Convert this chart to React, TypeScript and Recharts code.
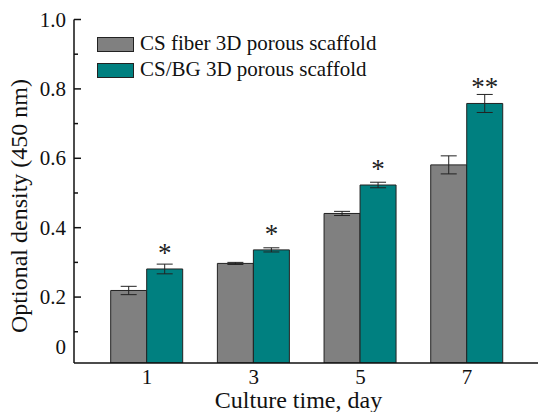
import { Bar, BarChart, ErrorBar, LabelList, Legend, XAxis, YAxis } from 'recharts';

const days = ['1', '3', '5', '7'];
const csFiber = [0.219, 0.297, 0.441, 0.581];
const csFiberErr = [0.012, 0.003, 0.006, 0.026];
const csBg = [0.281, 0.336, 0.523, 0.758];
const csBgErr = [0.014, 0.006, 0.008, 0.026];
const significance = ['*', '*', '*', '**'];

const majorTicks = [0.2, 0.4, 0.6, 0.8, 1.0];
const minorTicks = [0.1, 0.3, 0.5, 0.7, 0.9];
// the "0" label in the original sits a little above the axis floor
const zeroLabelAt = 0.056;

const data = days.map((day, i) => ({
    day,
    fiber: csFiber[i],
    fiberErr: csFiberErr[i],
    bg: csBg[i],
    bgErr: csBgErr[i],
    sig: significance[i]
}));

const font = 'Liberation Serif, Times New Roman, serif';
const serif = { fontFamily: font };
const GRAY = '#808080';
const TEAL = '#008080';

const YTick = (props: any) => {
    const { x, y, payload } = props;
    const v = payload.value;
    if (v === zeroLabelAt) {
        return (
            <text x={x - 8} y={y} dy={7} textAnchor='end' fontSize={21} fontFamily={font} style={serif} fill='#111'>
                0
            </text>
        );
    }
    const major = majorTicks.includes(v);
    return (
        <g>
            <line x1={x} x2={x + (major ? 7 : 4)} y1={y} y2={y} stroke='#111' strokeWidth={1.5} />
            {major && (
                <text x={x - 8} y={y} dy={7} textAnchor='end' fontSize={21} fontFamily={font} style={serif} fill='#111'>
                    {v.toFixed(1)}
                </text>
            )}
        </g>
    );
};

const renderLegend = (props: any) => {
    const items = [
        { name: 'CS fiber 3D porous scaffold', color: GRAY },
        { name: 'CS/BG 3D porous scaffold', color: TEAL }
    ];
    const payload = props?.payload?.length
        ? props.payload
        : items.map((it) => ({ value: it.name, color: it.color }));
    return (
        <svg width={320} height={64} style={{ display: 'block' }}>
            {payload.map((p: any, i: number) => (
                <g key={p.value}>
                    <rect
                        x={0.5}
                        y={i * 26 + 7.5}
                        width={36}
                        height={14}
                        fill={p.color}
                        stroke='#222'
                        strokeWidth={1}
                    />
                    <text x={43} y={i * 26 + 20} fontSize={21} fontFamily={font} style={serif} fill='#111'>
                        {p.value}
                    </text>
                </g>
            ))}
        </svg>
    );
};

const Stars = (props: any) => {
    const { x, y, width, value } = props;
    return (
        <text x={x + width / 2} y={y - 7} textAnchor='middle' fontSize={27} fontFamily={font} style={serif} fill='#222'>
            {value}
        </text>
    );
};

export default function App() {
    return (
        <div
            style={{
                position: 'absolute',
                left: 0,
                top: 0,
                width: 538,
                height: 412,
                overflow: 'hidden',
                background: '#fff',
                fontFamily: font
            }}
        >
            <BarChart
                width={640}
                height={412}
                data={data}
                margin={{ top: 19.5, right: 0, bottom: 0, left: 0 }}
                barSize={36}
                barGap={0}
            >
                <XAxis
                    dataKey='day'
                    height={49}
                    padding={{ left: 19.7, right: 119.6 }}
                    axisLine={{ stroke: '#111', strokeWidth: 1.5 }}
                    tickLine={false}
                    tickSize={0}
                    tickMargin={6}
                    tick={{ fontSize: 21, fontFamily: font, fill: '#111' }}
                    label={{
                        content: (p: any) => (
                            <text
                                x={p.viewBox.x + 224.5}
                                y={408}
                                textAnchor='middle'
                                fontSize={24}
                                fontFamily={font}
                                style={serif}
                                fill='#111'
                            >
                                Culture time, day
                            </text>
                        )
                    }}
                />
                <XAxis
                    xAxisId='top'
                    dataKey='day'
                    orientation='top'
                    height={0}
                    tick={false}
                    tickLine={false}
                    axisLine={{ stroke: '#111', strokeWidth: 1.5 }}
                />
                <YAxis
                    width={74}
                    domain={[0.01, 1]}
                    ticks={[zeroLabelAt, ...minorTicks, ...majorTicks].sort((a, b) => a - b)}
                    interval={0}
                    allowDataOverflow
                    axisLine={{ stroke: '#111', strokeWidth: 1.5 }}
                    tickLine={false}
                    tickSize={0}
                    tickMargin={0}
                    tick={<YTick />}
                    label={{
                        content: () => (
                            <text
                                x={27}
                                y={206}
                                transform='rotate(-90 27 206)'
                                textAnchor='middle'
                                fontSize={24}
                                fontFamily={font}
                                style={serif}
                                fill='#111'
                            >
                                Optional density (450 nm)
                            </text>
                        )
                    }}
                />
                <Legend
                    layout='vertical'
                    align='center'
                    verticalAlign='middle'
                    content={renderLegend}
                    wrapperStyle={{ top: 30, left: 97, width: 320, height: 64 }}
                />
                <Bar
                    dataKey='fiber'
                    name='CS fiber 3D porous scaffold'
                    fill={GRAY}
                    stroke='#222'
                    strokeWidth={1}
                    isAnimationActive={false}
                >
                    <ErrorBar dataKey='fiberErr' width={8} stroke='#222' strokeWidth={1} />
                </Bar>
                <Bar
                    dataKey='bg'
                    name='CS/BG 3D porous scaffold'
                    fill={TEAL}
                    stroke='#222'
                    strokeWidth={1}
                    isAnimationActive={false}
                >
                    <ErrorBar dataKey='bgErr' width={8} stroke='#222' strokeWidth={1} />
                    <LabelList dataKey='sig' content={<Stars />} />
                </Bar>
            </BarChart>
        </div>
    );
}
